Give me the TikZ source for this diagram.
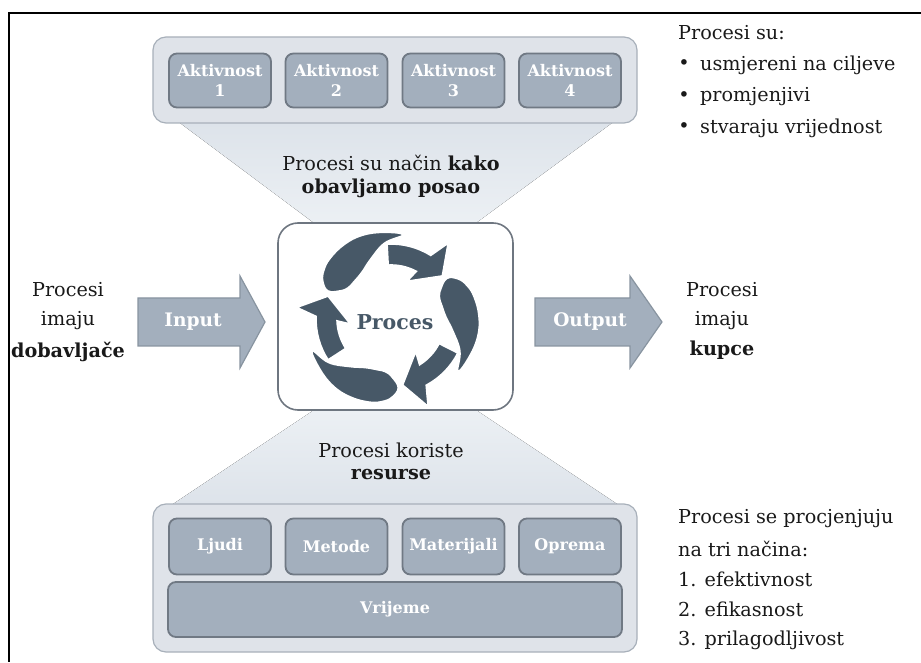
\documentclass[tikz,border=0pt]{standalone}
\usepackage{fontspec}
\setmainfont{DejaVu Serif}
\definecolor{boxfill}{RGB}{163,175,189}
\definecolor{boxline}{RGB}{112,121,132}
\definecolor{contfill}{RGB}{223,227,233}
\definecolor{contline}{RGB}{168,176,186}
\definecolor{trapA}{RGB}{221,227,234}
\definecolor{trapB}{RGB}{236,240,244}
\definecolor{cline}{RGB}{110,118,128}
\definecolor{icon}{RGB}{71,88,103}
\definecolor{arrline}{RGB}{136,148,160}
\definecolor{txtc}{RGB}{25,25,25}
\begin{document}
\begin{tikzpicture}[x=1pt,y=1pt,
  box/.style={draw=boxline, line width=1.8pt, fill=boxfill, rounded corners=8pt, text=white,
    font=\bfseries\fontsize{16}{19.5}\selectfont, align=center, inner sep=0pt,
    minimum width=102pt, minimum height=54pt},
  cont/.style={draw=contline, line width=1.2pt, fill=contfill, rounded corners=13pt, inner sep=0pt,
    minimum width=484pt},
  txt/.style={text=txtc, font=\fontsize{19.2}{22}\selectfont, inner sep=0pt},
  bigarrow/.style={draw=arrline, line width=1.2pt, fill=boxfill},
  arrtxt/.style={text=white, font=\bfseries\fontsize{18.6}{21}\selectfont, inner sep=0pt},
  piece/.style={fill=icon, draw=white, line width=1.6pt}]
\useasboundingbox (0,0) rectangle (921,662);
% frame lines
\draw[line width=1.7pt, black] (921,649) -- (9,649) -- (9,0);
% trapezoids
\fill[top color=trapA, bottom color=trapB] (180,539) -- (612,539) -- (476,439) -- (314,439) -- cycle;
\fill[top color=trapB, bottom color=trapA] (314,252) -- (476,252) -- (617,158) -- (173,158) -- cycle;
% top container
\node[cont, minimum height=86pt] (topc) at (395,582) {};
\node[box] (a1) at (220,581.5) {Aktivnost\\1};
\node[box] (a2) at (336.5,581.5) {Aktivnost\\2};
\node[box] (a3) at (453.5,581.5) {Aktivnost\\3};
\node[box] (a4) at (570,581.5) {Aktivnost\\4};
% bottom container
\node[cont, minimum height=148pt] (botc) at (395,84) {};
\node[box, minimum height=56pt] (r1) at (220,115.5) {Ljudi};
\node[box, minimum height=56pt] (r2) at (336.5,115.5) {Metode};
\node[box, minimum height=56pt] (r3) at (453.5,115.5) {Materijali};
\node[box, minimum height=56pt] (r4) at (570,115.5) {Oprema};
\node[box, minimum width=454pt, minimum height=55pt] (r5) at (395,52.5) {Vrijeme};
% trapezoid texts
\node[txt] (t1) at (391,499) {Procesi su način \textbf{kako}};
\node[txt] (t2) at (391,474) {\textbf{obavljamo posao}};
\node[txt] (t3) at (391,212) {Procesi koriste};
\node[txt] (t4) at (391,187) {\textbf{resurse}};
% center box
\node[draw=cline, line width=1.6pt, fill=white, rounded corners=20pt, minimum width=235pt,
  minimum height=187pt, inner sep=0pt] (proc) at (395.5,345.5) {};
\begin{scope}[shift={(391,343)}, rotate=-8]
  \foreach \r in {0,-120,-240}{
    \begin{scope}[rotate=\r]
      \draw[piece] plot[smooth cycle, tension=0.7] coordinates {(90:85) (103:87) (117:88.5) (130:88) (143:86) (152:83) (159:78) (164:69)
        (159:58) (152:53) (143:52.5) (130:55) (117:63) (103:76)};
      \draw[piece] (101:75) arc[start angle=101, end angle=66, radius=75] -- (61:95) -- (48:67)
        -- (75:41) -- (70:54) arc[start angle=70, end angle=101, radius=54] -- cycle;
    \end{scope}
  }
\end{scope}
\node[text=icon, font=\bfseries\fontsize{20.5}{22}\selectfont, inner sep=0pt] (ptxt) at (395,340) {Proces};
% input / output arrows
\draw[bigarrow] (138,316) -- (240,316) -- (240,294) -- (265,340) -- (240,386) -- (240,364) -- (138,364) -- cycle;
\node[arrtxt] (inp) at (193,340) {Input};
\draw[bigarrow] (535,316) -- (630,316) -- (630,294) -- (662,340) -- (630,386) -- (630,364) -- (535,364) -- cycle;
\node[arrtxt] (outp) at (590,340) {Output};
% left / right texts
\node[txt] (l1) at (68,372) {Procesi};
\node[txt] (l2) at (68,341) {imaju};
\node[txt] (l3) at (68,310) {\textbf{dobavljače}};
\node[txt] (q1) at (722,372) {Procesi};
\node[txt] (q2) at (722,341) {imaju};
\node[txt] (q3) at (722,312) {\textbf{kupce}};
% top right list
\node[txt, anchor=west] (s0) at (678,629) {Procesi su:};
\node[txt] (b1) at (684,597) {•};
\node[txt, anchor=west] (s1) at (700,597) {usmjereni na ciljeve};
\node[txt] (b2) at (684,565) {•};
\node[txt, anchor=west] (s2) at (700,565) {promjenjivi};
\node[txt] (b3) at (684,534) {•};
\node[txt, anchor=west] (s3) at (700,534) {stvaraju vrijednost};
% bottom right list
\node[txt, anchor=west] (e0) at (678,143) {Procesi se procjenjuju};
\node[txt, anchor=west] (e1) at (678,113) {na tri načina:};
\node[txt, anchor=west] (e2) at (678,83) {1. efektivnost};
\node[txt, anchor=west] (e3) at (678,53) {2. efikasnost};
\node[txt, anchor=west] (e4) at (678,22) {3. prilagodljivost};
\end{tikzpicture}
\end{document}
